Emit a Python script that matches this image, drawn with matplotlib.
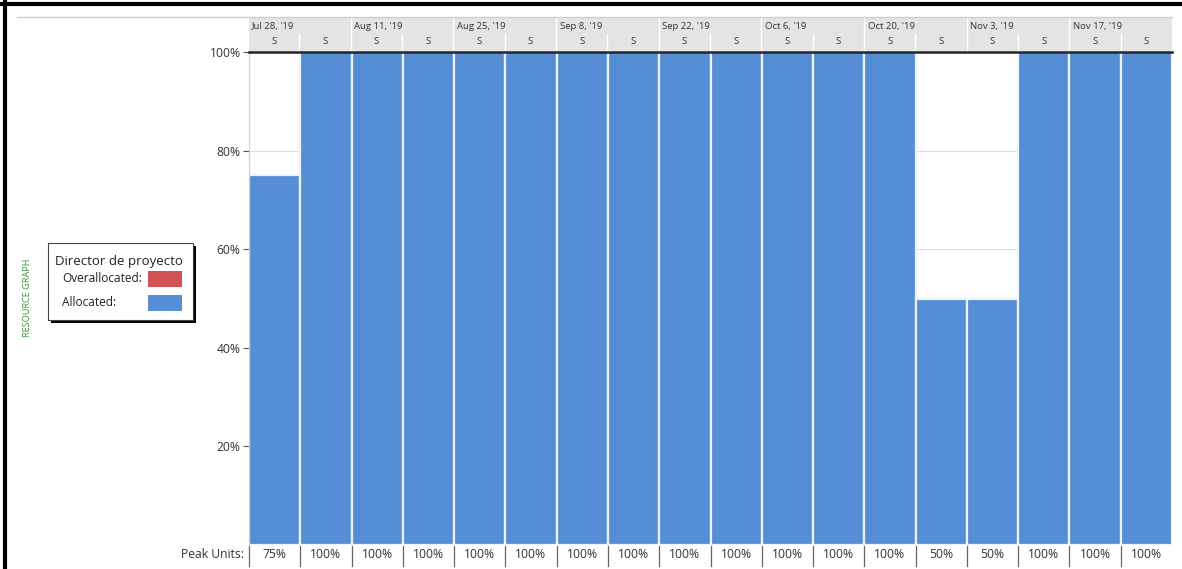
import numpy as np
import matplotlib.pyplot as plt
from matplotlib.patches import Rectangle

plt.rcParams['font.family'] = ['Open Sans', 'DejaVu Sans']

# weekly peak units for the resource
week_labels = ["Jul 28, '19", "Aug 11, '19", "Aug 25, '19", "Sep 8, '19", "Sep 22, '19",
               "Oct 6, '19", "Oct 20, '19", "Nov 3, '19", "Nov 17, '19"]
day_labels = ["S"] * 18
peak_units = [75, 100, 100, 100, 100, 100, 100, 100, 100, 100, 100, 100, 100, 50, 50, 100, 100, 100]

blue = '#558ed5'
red = '#d05252'
n = len(peak_units)
x = np.arange(n)

fig = plt.figure(figsize=(11.82, 5.69), dpi=100)

# main graph
ax = fig.add_axes([249/1182, 1-545/569, (1172-249)/1182, (545-52)/569])
ax.bar(x + 0.5, peak_units, width=1.0, color=blue, edgecolor='#eef3fa', linewidth=1.6, zorder=2)
ax.set_xlim(0, n)
ax.set_ylim(0, 100)
ax.set_yticks([20, 40, 60, 80, 100])
ax.set_yticklabels(['20%', '40%', '60%', '80%', '100%'], fontsize=8.7, color='#333333')
ax.set_xticks([])
ax.tick_params(axis='y', length=4, width=0.8, color='#555555', pad=2)
ax.grid(axis='y', color='#dddddd', linewidth=0.8, zorder=0)
for s in ['right', 'bottom']:
    ax.spines[s].set_visible(False)
ax.spines['left'].set_color('#cccccc')
ax.spines['top'].set_color('#222222')
ax.spines['top'].set_linewidth(1.8)
ax.spines['top'].set_zorder(5)

# timescale header
hx = fig.add_axes([248/1182, 1-51/569, (1172-248)/1182, 34/569])
hx.set_xlim(0, n)
hx.set_ylim(0, 2)
hx.add_patch(Rectangle((0, 0), n, 2, facecolor='#e4e4e4', edgecolor='none'))
hx.axis('off')
for i, lab in enumerate(week_labels):
    hx.text(2*i + 0.07, 1.45, lab, fontsize=6.8, color='#333333', va='center', ha='left')
    hx.plot([2*i, 2*i], [0, 2], color='#ffffff', linewidth=1)
for i, lab in enumerate(day_labels):
    hx.text(i + 0.5, 0.55, lab, fontsize=6.8, color='#333333', va='center', ha='center')
    if i % 2 == 1:
        hx.plot([i, i], [0, 1.0], color='#ffffff', linewidth=1)
fig.add_artist(plt.Line2D([17/1182, 1172/1182], [1-17/569, 1-17/569], color='#d0d0d0', linewidth=1))

# peak units row
fig.text(244/1182, 1-555/569, 'Peak Units:', fontsize=8.7, color='#333333', ha='right', va='center')
for i, v in enumerate(peak_units):
    xc = (249 + (i + 0.5) * (1172-249)/n) / 1182
    fig.text(xc, 1-555/569, '%d%%' % v, fontsize=8.7, color='#333333', ha='center', va='center')
    xb = (249 + i * (1172-249)/n) / 1182
    fig.add_artist(plt.Line2D([xb, xb], [1-546/569, 1-566/569], color='#666666', linewidth=0.9))

# legend box with shadow
lx, ly, lw, lh = 48/1182, 1-320/569, 145/1182, 77/569
fig.add_artist(Rectangle((lx + 3/1182, ly - 3/569), lw, lh, transform=fig.transFigure,
                         facecolor='#000000', edgecolor='none'))
fig.add_artist(Rectangle((lx, ly), lw, lh, transform=fig.transFigure,
                         facecolor='white', edgecolor='#444444', linewidth=0.8))
fig.text(55/1182, 1-262/569, 'Director de proyecto', fontsize=9.5, color='#222222', va='center')
fig.text(62/1182, 1-279/569, 'Overallocated:', fontsize=8.6, color='#222222', va='center')
fig.text(62/1182, 1-303/569, 'Allocated:', fontsize=8.6, color='#222222', va='center')
fig.add_artist(Rectangle((148/1182, 1-287/569), 34/1182, 16/569, transform=fig.transFigure,
                         facecolor=red, edgecolor='none'))
fig.add_artist(Rectangle((148/1182, 1-311/569), 34/1182, 16/569, transform=fig.transFigure,
                         facecolor=blue, edgecolor='none'))

fig.text(28/1182, 1-298/569, 'RESOURCE GRAPH', fontsize=6.6, color='#3d8f3d',
         rotation=90, ha='center', va='center')

# frame edges
fig.add_artist(plt.Line2D([4.5/1182, 4.5/1182], [0, 1], color='black', linewidth=3))
fig.add_artist(plt.Line2D([0, 1], [1-3.5/569, 1-3.5/569], color='black', linewidth=3))

fig.savefig('out.png', dpi=100)
